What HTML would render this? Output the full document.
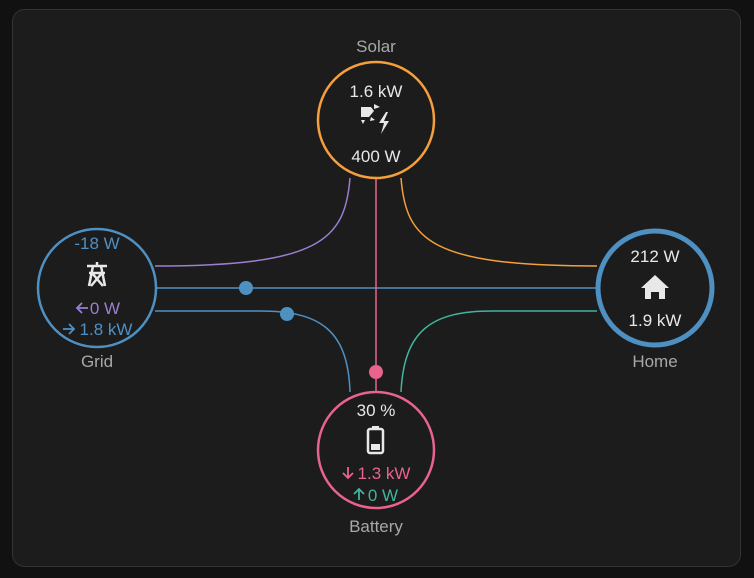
<!DOCTYPE html>
<html><head><style>
html,body{margin:0;padding:0;background:#111;width:754px;height:578px;overflow:hidden}
svg{display:block}
text{font-family:"Liberation Sans",sans-serif}
</style></head><body>
<svg width="754" height="578" viewBox="0 0 754 578">
<rect x="12.5" y="9.5" width="728" height="557" rx="12" fill="#1c1c1c" stroke="#333"/>
<g fill="none" stroke-width="1.5">
<path d="M155 266 C 320 266, 345 240, 350 178" stroke="#9b7fd0"/>
<path d="M401 178 C 406 240, 430 266, 597 266" stroke="#f5a03a"/>
<path d="M156 288 H597" stroke="#4f90c3"/>
<path d="M155 311 H 260 C 320 311, 348 330, 350 392" stroke="#4f90c3"/>
<path d="M376 178 V392" stroke="#e8648c"/>
<path d="M597 311 H 492 C 432 311, 404 330, 401 392" stroke="#3fb59e"/>
</g>
<circle cx="246" cy="288" r="7" fill="#4f90c3"/>
<circle cx="287" cy="314" r="7" fill="#4f90c3"/>
<circle cx="376" cy="372" r="7" fill="#e8648c"/>
<g fill="#1c1c1c" stroke-width="2.5">
<circle cx="376" cy="120" r="58" stroke="#f5a03a"/>
<circle cx="97" cy="288" r="59" stroke="#4f90c3"/>
<circle cx="376" cy="450" r="58" stroke="#e8648c"/>
<circle cx="655" cy="288" r="57" stroke="#4f90c3" stroke-width="5"/>
</g>
<g font-size="17" text-anchor="middle">
<text x="376" y="52" fill="#a8a8a8">Solar</text>
<text x="376" y="97" fill="#e8e8e8">1.6 kW</text>
<text x="376" y="162" fill="#e8e8e8">400 W</text>
<text x="97" y="367" fill="#a8a8a8">Grid</text>
<text x="97" y="249" fill="#4f90c3">-18 W</text>
<text x="105" y="314" fill="#9b7fd0">0 W</text>
<text x="106" y="335" fill="#4f90c3">1.8 kW</text>
<text x="655" y="367" fill="#a8a8a8">Home</text>
<text x="655" y="262" fill="#e8e8e8">212 W</text>
<text x="655" y="326" fill="#e8e8e8">1.9 kW</text>
<text x="376" y="532" fill="#a8a8a8">Battery</text>
<text x="376" y="416" fill="#e8e8e8">30 %</text>
<text x="384" y="479" fill="#e8648c">1.3 kW</text>
<text x="383" y="501" fill="#3fb59e">0 W</text>
</g>
<g fill="none" stroke-width="1.8">
<path d="M88 308 h-11 M82 303 l-5 5 l5 5" stroke="#9b7fd0"/>
<path d="M63 329 h11 M69 324 l5 5 l-5 5" stroke="#4f90c3"/>
<path d="M348 467 v11 M343 473 l5 5 l5 -5" stroke="#e8648c"/>
<path d="M359 500 v-11 M354 494 l5 -5 l5 5" stroke="#3fb59e"/>
</g>
<g fill="#e8e8e8">
<path d="M361 107 h10 l3 4 l-5 6 l-8 0z"/><path d="M374 104 l6 3 l-6 2z"/><path d="M361 120 l4 0 l-2 4z"/><path d="M371 117 l4 3 l-5 1z"/>
<path d="M386 112 l-7 11 h5 l-3 11 l8 -13 h-5 l4 -9z"/>
<path d="M641 288 l14 -13 l14 13 h-4 v11 h-6 v-7 h-8 v7 h-6 v-11z"/>
<rect x="368" y="429" width="15" height="24" rx="2" fill="none" stroke="#e8e8e8" stroke-width="2.5"/>
<rect x="372" y="426" width="7" height="4"/>
<rect x="371" y="444" width="9" height="6"/>
</g>
<g stroke="#e8e8e8" stroke-width="2.5" fill="none">
<path d="M87 266 h20 M89 273 h16 M97 262 v4 M93 266 l-4 20 M101 266 l4 20 M92 273 l11 13 M102 273 l-11 13"/>
</g>
</svg>
</body></html>
